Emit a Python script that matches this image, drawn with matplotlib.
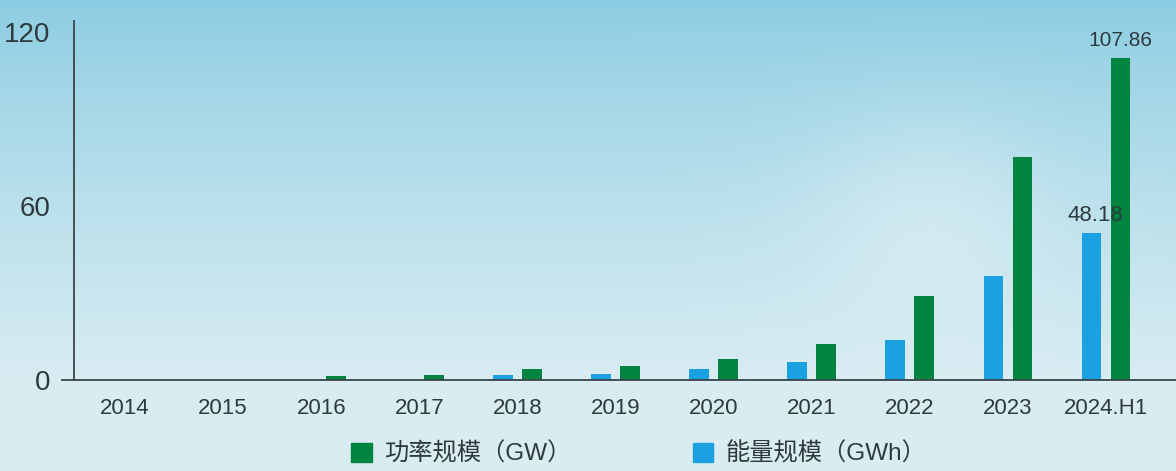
import numpy as np
import matplotlib
matplotlib.use("Agg")
import matplotlib.pyplot as plt
from matplotlib.patches import Patch

plt.rcParams['font.family'] = ['Liberation Sans', 'Noto Sans CJK SC', 'DejaVu Sans']

categories = ['2014', '2015', '2016', '2017', '2018', '2019', '2020', '2021', '2022', '2023', '2024.H1']
energy_gwh = [0, 0, 0, 0, 1.6, 2.1, 3.7, 6.1, 13.7, 36.0, 50.6]
power_gw = [0, 0, 1.3, 1.6, 3.8, 4.9, 7.3, 12.4, 29.0, 77.0, 110.9]
energy_labels = ['', '', '', '', '', '', '', '', '', '', '48.18']
power_labels = ['', '', '', '', '', '', '', '', '', '', '107.86']
y_ticks = [0, 60, 120]
legend_names = ['功率规模（GW）', '能量规模（GWh）']

GREEN = '#00843f'
BLUE = '#1ba1e2'
TEXT = '#2e3a3e'

W, H = 1176, 471
fig = plt.figure(figsize=(W / 100, H / 100), dpi=100)

# background gradient
bg = fig.add_axes([0, 0, 1, 1], zorder=-10)
yy, xx = np.mgrid[0:H, 0:W]
t = yy / H
top = np.array([138, 204, 226]) / 255
bot = np.array([216, 236, 242]) / 255
tt = np.clip(t * 1.25, 0, 1) ** 0.8
img = top[None, None, :] * (1 - tt[..., None]) + bot[None, None, :] * tt[..., None]
spot = np.exp(-(((xx - 930) / 120) ** 2 + ((yy - 230) / 110) ** 2))
img = img + (np.array([232, 244, 247]) / 255 - img) * (0.45 * spot[..., None])
bg.imshow(np.clip(img, 0, 1), aspect='auto', extent=[0, 1, 0, 1])
bg.axis('off')

ax = fig.add_axes([74 / W, (H - 380) / H, 1 - 74 / W, (380 - 21) / H])
ax.patch.set_alpha(0)

x = np.arange(len(categories))
bw = 0.2
off = 0.148
ax.bar(x - off, energy_gwh, width=bw, color=BLUE, zorder=2)
ax.bar(x + off, power_gw, width=bw, color=GREEN, zorder=2)

for i, lab in enumerate(power_labels):
    if lab:
        ax.text(x[i] + off, power_gw[i] + 2.8, lab, ha='center', va='bottom',
                fontsize=15, color=TEXT, zorder=4)
for i, lab in enumerate(energy_labels):
    if lab:
        ax.text(x[i] - off + 0.04, energy_gwh[i] + 2.6, lab, ha='center', va='bottom',
                fontsize=16, color=TEXT, zorder=4)

ax.set_xlim(-0.52, len(categories) - 1 + 0.714)
ax.set_ylim(0, 123.8)
ax.set_yticks(y_ticks)
ax.set_yticklabels([str(v) for v in y_ticks], fontsize=20, color=TEXT)
ax.set_xticks(x)
ax.set_xticklabels(categories, fontsize=16, color=TEXT)
ax.tick_params(axis='both', length=0)
ax.tick_params(axis='y', pad=17)
ax.tick_params(axis='x', pad=13)

for s in ['top', 'right']:
    ax.spines[s].set_visible(False)
ax.spines['left'].set_color('#3a4448')
ax.spines['bottom'].set_color('#3a4448')
ax.spines['left'].set_linewidth(1.3)
ax.spines['bottom'].set_linewidth(1.3)
ax.plot([-12 / 1102, 0], [0, 0], transform=ax.transAxes, color='#3a4448',
        lw=1.3, clip_on=False)

handles = [Patch(color=GREEN), Patch(color=BLUE)]
fig.legend(handles, legend_names, loc='center', bbox_to_anchor=(0.543, 0.036),
           ncol=2, frameon=False, fontsize=17.5, handlelength=0.85, handleheight=0.85,
           handletextpad=0.5, columnspacing=5.0, labelcolor=TEXT)

fig.savefig('out.png', dpi=100)
